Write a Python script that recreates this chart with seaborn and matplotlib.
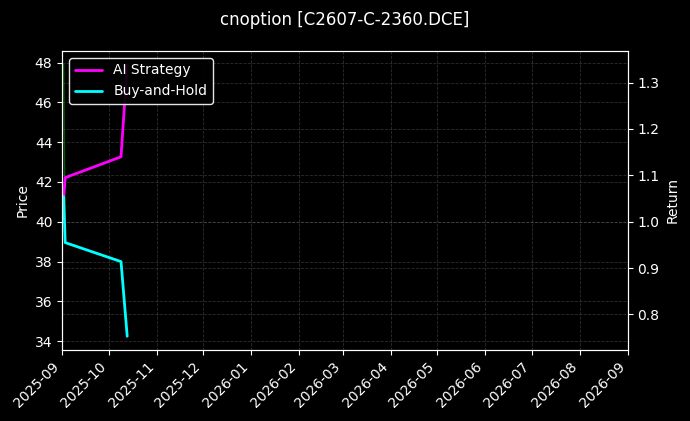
import matplotlib
matplotlib.use("Agg")
import matplotlib.pyplot as plt
import matplotlib.dates as mdates
import seaborn as sns
import pandas as pd

title = "cnoption [C2607-C-2360.DCE]"

price_dates = ["2025-09-02", "2025-09-03", "2025-10-09", "2025-10-13"]
price_values = [47.9, 38.95, 38.0, 34.25]

ret_dates = ["2025-09-02", "2025-09-03", "2025-10-09", "2025-10-13"]
ai_returns = [1.054, 1.095, 1.14, 1.339]
bh_returns = [1.054, 0.955, 0.914, 0.753]

price_df = pd.DataFrame({"date": pd.to_datetime(price_dates), "price": price_values})
ret_df = pd.DataFrame({"date": pd.to_datetime(ret_dates), "ai": ai_returns, "bh": bh_returns})

plt.style.use("dark_background")
sns.set_style("dark", {"axes.facecolor": "black", "figure.facecolor": "black",
                       "axes.edgecolor": "white", "text.color": "white",
                       "xtick.color": "white", "ytick.color": "white",
                       "axes.labelcolor": "white"})
plt.rcParams["font.family"] = ["DejaVu Sans"]

fig, ax = plt.subplots(figsize=(6.9, 4.21), dpi=100)
fig.subplots_adjust(left=0.09, right=0.91, top=0.879, bottom=0.169)

sns.lineplot(data=price_df, x="date", y="price", ax=ax, color="green", alpha=0.7, linewidth=1)
ax.set_ylabel("Price")
ax.set_xlabel("")
ax.grid(True, linestyle="--", color="gray", alpha=0.35, linewidth=0.6)

ax2 = ax.twinx()
sns.lineplot(data=ret_df, x="date", y="ai", ax=ax2, color="magenta", linewidth=2, label="AI Strategy")
sns.lineplot(data=ret_df, x="date", y="bh", ax=ax2, color="cyan", linewidth=2, label="Buy-and-Hold")
ax2.set_ylabel("Return")
ax2.grid(True, linestyle="--", color="gray", alpha=0.35, linewidth=0.6)
ax2.legend(loc="upper left", facecolor="black", edgecolor="white", framealpha=0.9)

ax.set_xlim(pd.Timestamp("2025-09-01"), pd.Timestamp("2026-09-01"))
ax.xaxis.set_major_locator(mdates.MonthLocator())
ax.xaxis.set_major_formatter(mdates.DateFormatter("%Y-%m"))
for lbl in ax.get_xticklabels():
    lbl.set_rotation(45)
    lbl.set_ha("right")
ax.tick_params(axis="both", which="both", bottom=True, left=True, length=3.5)
ax2.tick_params(axis="y", right=True, length=3.5)
for a in (ax, ax2):
    for s in a.spines.values():
        s.set_color("white")

fig.suptitle(title, color="white", fontsize=12, y=0.975)
fig.savefig("out.png", dpi=100, facecolor="black")
